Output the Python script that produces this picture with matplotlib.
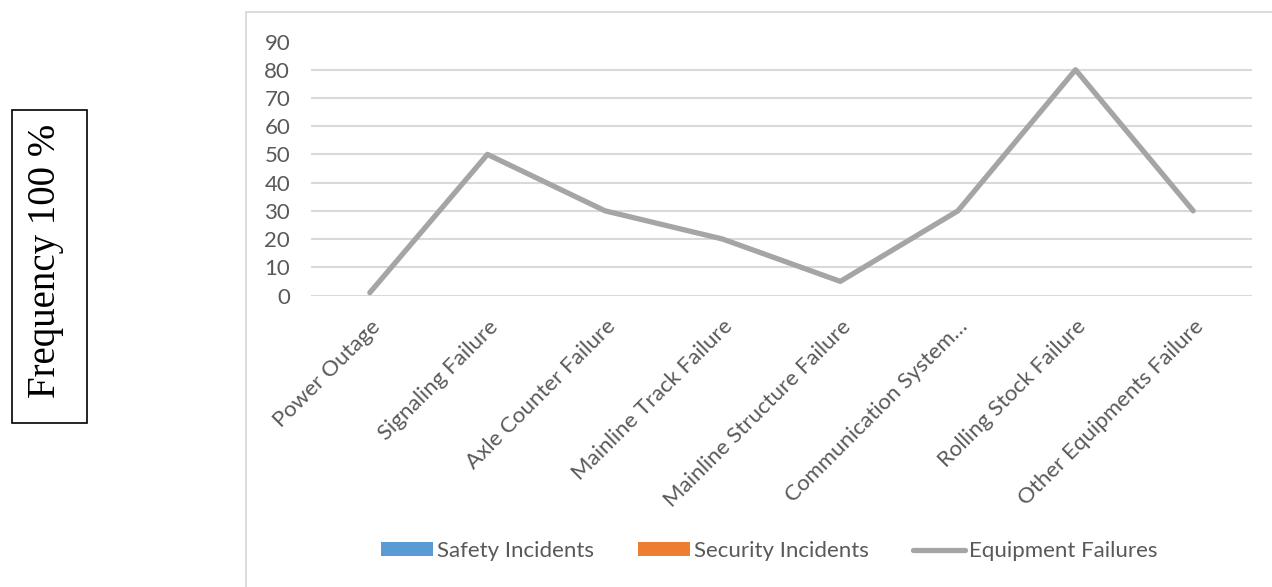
import matplotlib
matplotlib.use("Agg")
import matplotlib.pyplot as plt
from matplotlib.patches import Rectangle
import numpy as np

categories = [
    "Power Outage", "Signaling Failure", "Axle Counter Failure",
    "Mainline Track Failure", "Mainline Structure Failure",
    "Communication System…", "Rolling Stock Failure",
    "Other Equipments Failure",
]
safety_incidents = [0, 0, 0, 0, 0, 0, 0, 0]
security_incidents = [0, 0, 0, 0, 0, 0, 0, 0]
equipment_failures = [1, 50, 30, 20, 5, 30, 80, 30]
y_ticks = [0, 10, 20, 30, 40, 50, 60, 70, 80, 90]

TEXT = "#595959"
GRID = "#d9d9d9"
plt.rcParams["font.family"] = ["Lato", "DejaVu Sans"]

fig = plt.figure(figsize=(12.72, 5.87), dpi=100)
W, H = 1272, 587

# outer chart frame
fig.patches.append(Rectangle((246 / W, -0.05), 1.2, 1 - 12 / H + 0.05,
                             transform=fig.transFigure, fill=False,
                             edgecolor=GRID, linewidth=1.3))

ax = fig.add_axes([311 / W, 1 - 295.5 / H, (1252 - 311) / W, (295.5 - 41.5) / H])
x = np.arange(len(categories))

h_safe = ax.bar(x - 0.2, safety_incidents, width=0.35, color="#5b9bd5",
                label="Safety Incidents")
h_sec = ax.bar(x + 0.2, security_incidents, width=0.35, color="#ed7d31",
               label="Security Incidents")
h_eq, = ax.plot(x, equipment_failures, color="#a5a5a5", linewidth=3.8,
                solid_capstyle="round", solid_joinstyle="round",
                label="Equipment Failures", zorder=3)

ax.set_xlim(-0.5, len(categories) - 0.5)
ax.set_ylim(0, 90)
ax.set_yticks(y_ticks)
ax.yaxis.grid(True, color=GRID, linewidth=1.5)
ax.set_axisbelow(True)
for s in ax.spines.values():
    s.set_visible(False)
ax.tick_params(axis="both", length=0, colors=TEXT, labelsize=16)
ax.tick_params(axis="y", pad=15)
ax.set_xticks(x)
ax.set_xticklabels(categories, rotation=45, ha="right", va="top",
                   rotation_mode="anchor", fontsize=16, color=TEXT)
ax.tick_params(axis="x", pad=15)

# y-axis title in a boxed serif label
fig.text(46 / W, 1 - 261 / H, "Frequency 100 %", rotation=90,
         ha="center", va="center", fontsize=28,
         family=["Liberation Serif", "DejaVu Serif"], color="black")
fig.patches.append(Rectangle((12 / W, 1 - 423 / H), 75 / W, 313 / H,
                             transform=fig.transFigure, fill=False,
                             edgecolor="black", linewidth=1.2))

leg = ax.legend(handles=[h_safe, h_sec, h_eq],
                loc="center", bbox_to_anchor=(0.487, (295.5 - 551) / (295.5 - 41.5)),
                ncol=3, frameon=False, fontsize=16, handlelength=2.35,
                handleheight=0.55, columnspacing=1.95, handletextpad=0.2)
for t in leg.get_texts():
    t.set_color(TEXT)

fig.savefig("out.png", dpi=100)
